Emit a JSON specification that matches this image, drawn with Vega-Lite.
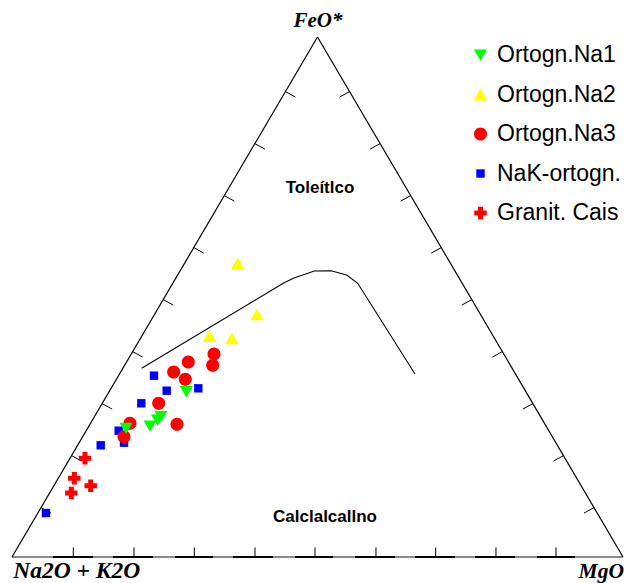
{
  "$schema": "https://vega.github.io/schema/vega-lite/v6.json",
  "width": 626,
  "height": 583,
  "autosize": {"type": "none"},
  "padding": 0,
  "background": "white",
  "config": {"view": {"stroke": null}},
  "datasets": {
    "edges": [
      {"x": 0, "y": 0, "x2": 0.5, "y2": 1},
      {"x": 0.5, "y": 1, "x2": 1, "y2": 0}
    ],
    "base": [
      {"x": 0, "y": 0, "x2": 1, "y2": 0}
    ],
    "baseDark": [
      {"x": 0.0671, "y": 0, "x2": 0.1326, "y2": 0},
      {"x": 0.1653, "y": 0, "x2": 0.2308, "y2": 0},
      {"x": 0.2668, "y": 0, "x2": 0.3290, "y2": 0},
      {"x": 0.3617, "y": 0, "x2": 0.4272, "y2": 0},
      {"x": 0.4632, "y": 0, "x2": 0.5254, "y2": 0},
      {"x": 0.5614, "y": 0, "x2": 0.6268, "y2": 0},
      {"x": 0.6596, "y": 0, "x2": 0.7250, "y2": 0},
      {"x": 0.7578, "y": 0, "x2": 0.8232, "y2": 0},
      {"x": 0.8592, "y": 0, "x2": 0.9214, "y2": 0}
    ],
    "ticks": [
      {"x": 0.0475, "y": 0.095, "x2": 0.0639, "y2": 0.0844},
      {"x": 0.0975, "y": 0.195, "x2": 0.1139, "y2": 0.1844},
      {"x": 0.1475, "y": 0.295, "x2": 0.1639, "y2": 0.2844},
      {"x": 0.1975, "y": 0.395, "x2": 0.2139, "y2": 0.3844},
      {"x": 0.2475, "y": 0.495, "x2": 0.2639, "y2": 0.4844},
      {"x": 0.2975, "y": 0.595, "x2": 0.3139, "y2": 0.5844},
      {"x": 0.3475, "y": 0.695, "x2": 0.3639, "y2": 0.6844},
      {"x": 0.3975, "y": 0.795, "x2": 0.4139, "y2": 0.7844},
      {"x": 0.4475, "y": 0.895, "x2": 0.4639, "y2": 0.8844},
      {"x": 0.9525, "y": 0.095, "x2": 0.9361, "y2": 0.0844},
      {"x": 0.9025, "y": 0.195, "x2": 0.8861, "y2": 0.1844},
      {"x": 0.8525, "y": 0.295, "x2": 0.8361, "y2": 0.2844},
      {"x": 0.8025, "y": 0.395, "x2": 0.7861, "y2": 0.3844},
      {"x": 0.7525, "y": 0.495, "x2": 0.7361, "y2": 0.4844},
      {"x": 0.7025, "y": 0.595, "x2": 0.6861, "y2": 0.5844},
      {"x": 0.6525, "y": 0.695, "x2": 0.6361, "y2": 0.6844},
      {"x": 0.6025, "y": 0.795, "x2": 0.5861, "y2": 0.7844},
      {"x": 0.5525, "y": 0.895, "x2": 0.5361, "y2": 0.8844},
      {"x": 0.1003, "y": 0, "x2": 0.1003, "y2": 0.0183},
      {"x": 0.1997, "y": 0, "x2": 0.1997, "y2": 0.0183},
      {"x": 0.2984, "y": 0, "x2": 0.2984, "y2": 0.0183},
      {"x": 0.3977, "y": 0, "x2": 0.3977, "y2": 0.0183},
      {"x": 0.4959, "y": 0, "x2": 0.4959, "y2": 0.0183},
      {"x": 0.5957, "y": 0, "x2": 0.5957, "y2": 0.0183},
      {"x": 0.6934, "y": 0, "x2": 0.6934, "y2": 0.0183},
      {"x": 0.7921, "y": 0, "x2": 0.7921, "y2": 0.0183},
      {"x": 0.8903, "y": 0, "x2": 0.8903, "y2": 0.0183}
    ],
    "curve": [
      {"i": 1, "x": 0.2123, "y": 0.3629},
      {"i": 2, "x": 0.4440, "y": 0.5263},
      {"i": 3, "x": 0.4604, "y": 0.5360},
      {"i": 4, "x": 0.4948, "y": 0.5500},
      {"i": 5, "x": 0.5221, "y": 0.5506},
      {"i": 6, "x": 0.5478, "y": 0.5423},
      {"i": 7, "x": 0.5658, "y": 0.5263},
      {"i": 8, "x": 0.6596, "y": 0.3519}
    ],
    "points": [
      {"series": "NaK-ortogn.", "x": 0.0556, "y": 0.0846},
      {"series": "NaK-ortogn.", "x": 0.1452, "y": 0.2148},
      {"series": "NaK-ortogn.", "x": 0.1746, "y": 0.2429},
      {"series": "NaK-ortogn.", "x": 0.1833, "y": 0.2198},
      {"series": "NaK-ortogn.", "x": 0.2116, "y": 0.2956},
      {"series": "NaK-ortogn.", "x": 0.2324, "y": 0.3487},
      {"series": "NaK-ortogn.", "x": 0.2532, "y": 0.3198},
      {"series": "NaK-ortogn.", "x": 0.3049, "y": 0.3244},
      {"series": "Granit. Cais", "x": 0.1195, "y": 0.1898},
      {"series": "Granit. Cais", "x": 0.1020, "y": 0.1513},
      {"series": "Granit. Cais", "x": 0.1288, "y": 0.1371},
      {"series": "Granit. Cais", "x": 0.0971, "y": 0.1231},
      {"series": "Ortogn.Na3", "x": 0.1931, "y": 0.2571},
      {"series": "Ortogn.Na3", "x": 0.1833, "y": 0.2313},
      {"series": "Ortogn.Na3", "x": 0.2401, "y": 0.2956},
      {"series": "Ortogn.Na3", "x": 0.2700, "y": 0.2552},
      {"series": "Ortogn.Na3", "x": 0.2646, "y": 0.3558},
      {"series": "Ortogn.Na3", "x": 0.2836, "y": 0.3417},
      {"series": "Ortogn.Na3", "x": 0.2885, "y": 0.3750},
      {"series": "Ortogn.Na3", "x": 0.3306, "y": 0.3904},
      {"series": "Ortogn.Na3", "x": 0.3285, "y": 0.3687},
      {"series": "Ortogn.Na2", "x": 0.3694, "y": 0.5648},
      {"series": "Ortogn.Na2", "x": 0.4010, "y": 0.4667},
      {"series": "Ortogn.Na2", "x": 0.3229, "y": 0.4250},
      {"series": "Ortogn.Na2", "x": 0.3601, "y": 0.4206},
      {"series": "Ortogn.Na1", "x": 0.1866, "y": 0.2475},
      {"series": "Ortogn.Na1", "x": 0.2259, "y": 0.2519},
      {"series": "Ortogn.Na1", "x": 0.2381, "y": 0.2635},
      {"series": "Ortogn.Na1", "x": 0.2439, "y": 0.2702},
      {"series": "Ortogn.Na1", "x": 0.2853, "y": 0.3179}
    ],
    "topLabel": [
      {"label": "FeO*", "x": 0.5008, "y": 1.0198}
    ],
    "leftLabel": [
      {"label": "Na2O + K2O", "x": 0.002, "y": -0.0404}
    ],
    "rightLabel": [
      {"label": "MgO", "x": 1.0016, "y": -0.0404}
    ],
    "fieldLabels": [
      {"label": "Toleítlco", "x": 0.5041, "y": 0.7006},
      {"label": "Calclalcallno", "x": 0.5123, "y": 0.0679}
    ]
  },
  "layer": [
    {
      "data": {"name": "base"},
      "mark": {"type": "rule", "color": "#8c8c8c", "strokeWidth": 2},
      "encoding": {
        "x": {"field": "x", "type": "quantitative", "scale": {"domain": [-0.01964, 1.00491], "nice": false, "zero": false}, "axis": null},
        "y": {"field": "y", "type": "quantitative", "scale": {"domain": [-0.05, 1.071154], "nice": false, "zero": false}, "axis": null},
        "x2": {"field": "x2"},
        "y2": {"field": "y2"}
      }
    },
    {
      "data": {"name": "baseDark"},
      "mark": {"type": "rule", "color": "black", "strokeWidth": 2},
      "encoding": {
        "x": {"field": "x", "type": "quantitative"},
        "y": {"field": "y", "type": "quantitative"},
        "x2": {"field": "x2"},
        "y2": {"field": "y2"}
      }
    },
    {
      "data": {"name": "edges"},
      "mark": {"type": "rule", "color": "black", "strokeWidth": 1.2},
      "encoding": {
        "x": {"field": "x", "type": "quantitative"},
        "y": {"field": "y", "type": "quantitative"},
        "x2": {"field": "x2"},
        "y2": {"field": "y2"}
      }
    },
    {
      "data": {"name": "ticks"},
      "mark": {"type": "rule", "color": "black", "strokeWidth": 1},
      "encoding": {
        "x": {"field": "x", "type": "quantitative"},
        "y": {"field": "y", "type": "quantitative"},
        "x2": {"field": "x2"},
        "y2": {"field": "y2"}
      }
    },
    {
      "data": {"name": "curve"},
      "mark": {"type": "line", "color": "black", "strokeWidth": 1.1},
      "encoding": {
        "x": {"field": "x", "type": "quantitative"},
        "y": {"field": "y", "type": "quantitative"},
        "order": {"field": "i", "type": "quantitative"}
      }
    },
    {
      "data": {"name": "fieldLabels"},
      "mark": {"type": "text", "font": "Liberation Sans", "fontWeight": "bold", "fontSize": 17, "align": "center", "baseline": "alphabetic", "color": "black"},
      "encoding": {
        "x": {"field": "x", "type": "quantitative"},
        "y": {"field": "y", "type": "quantitative"},
        "text": {"field": "label"}
      }
    },
    {
      "data": {"name": "topLabel"},
      "mark": {"type": "text", "font": "Liberation Serif", "fontWeight": "bold", "fontStyle": "italic", "fontSize": 21, "align": "center", "baseline": "alphabetic", "color": "black"},
      "encoding": {
        "x": {"field": "x", "type": "quantitative"},
        "y": {"field": "y", "type": "quantitative"},
        "text": {"field": "label"}
      }
    },
    {
      "data": {"name": "leftLabel"},
      "mark": {"type": "text", "font": "Liberation Serif", "fontWeight": "bold", "fontStyle": "italic", "fontSize": 23.5, "align": "left", "baseline": "alphabetic", "color": "black"},
      "encoding": {
        "x": {"field": "x", "type": "quantitative"},
        "y": {"field": "y", "type": "quantitative"},
        "text": {"field": "label"}
      }
    },
    {
      "data": {"name": "rightLabel"},
      "mark": {"type": "text", "font": "Liberation Serif", "fontWeight": "bold", "fontStyle": "italic", "fontSize": 21.5, "align": "right", "baseline": "alphabetic", "color": "black"},
      "encoding": {
        "x": {"field": "x", "type": "quantitative"},
        "y": {"field": "y", "type": "quantitative"},
        "text": {"field": "label"}
      }
    },
    {
      "data": {"name": "points"},
      "mark": {"type": "point", "filled": true, "opacity": 1, "strokeWidth": 0, "size": 196},
      "encoding": {
        "x": {"field": "x", "type": "quantitative"},
        "y": {"field": "y", "type": "quantitative"},
        "color": {
          "field": "series", "type": "nominal",
          "scale": {"domain": ["Ortogn.Na1", "Ortogn.Na2", "Ortogn.Na3", "NaK-ortogn.", "Granit. Cais"], "range": ["#00ff00", "#ffff00", "#ff0000", "#0000ff", "#ff0000"]},
          "legend": {"title": null, "orient": "none", "legendX": 469, "legendY": 43.5, "labelFont": "Liberation Sans", "labelFontSize": 23, "labelColor": "black", "rowPadding": 15.5, "labelOffset": 5, "symbolSize": 196, "symbolStrokeWidth": 0, "symbolOpacity": 1, "padding": 0}
        },
        "shape": {
          "field": "series", "type": "nominal",
          "scale": {"domain": ["Ortogn.Na1", "Ortogn.Na2", "Ortogn.Na3", "NaK-ortogn.", "Granit. Cais"], "range": [
            "M-0.93,-0.8L0.93,-0.8L0,0.82Z",
            "M0,-0.84L0.98,0.84L-0.98,0.84Z",
            "M-0.93,0A0.93,0.93 0 1,0 0.93,0A0.93,0.93 0 1,0 -0.93,0Z",
            "M-0.6,-0.6H0.6V0.6H-0.6Z",
            "M-0.89,-0.36H-0.36V-0.89H0.36V-0.36H0.89V0.36H0.36V0.89H-0.36V0.36H-0.89Z"
          ]},
          "legend": {"title": null, "orient": "none", "legendX": 469, "legendY": 43.5, "labelFont": "Liberation Sans", "labelFontSize": 23, "labelColor": "black", "rowPadding": 15.5, "labelOffset": 5, "symbolSize": 196, "symbolStrokeWidth": 0, "symbolOpacity": 1, "padding": 0}
        }
      }
    }
  ]
}
